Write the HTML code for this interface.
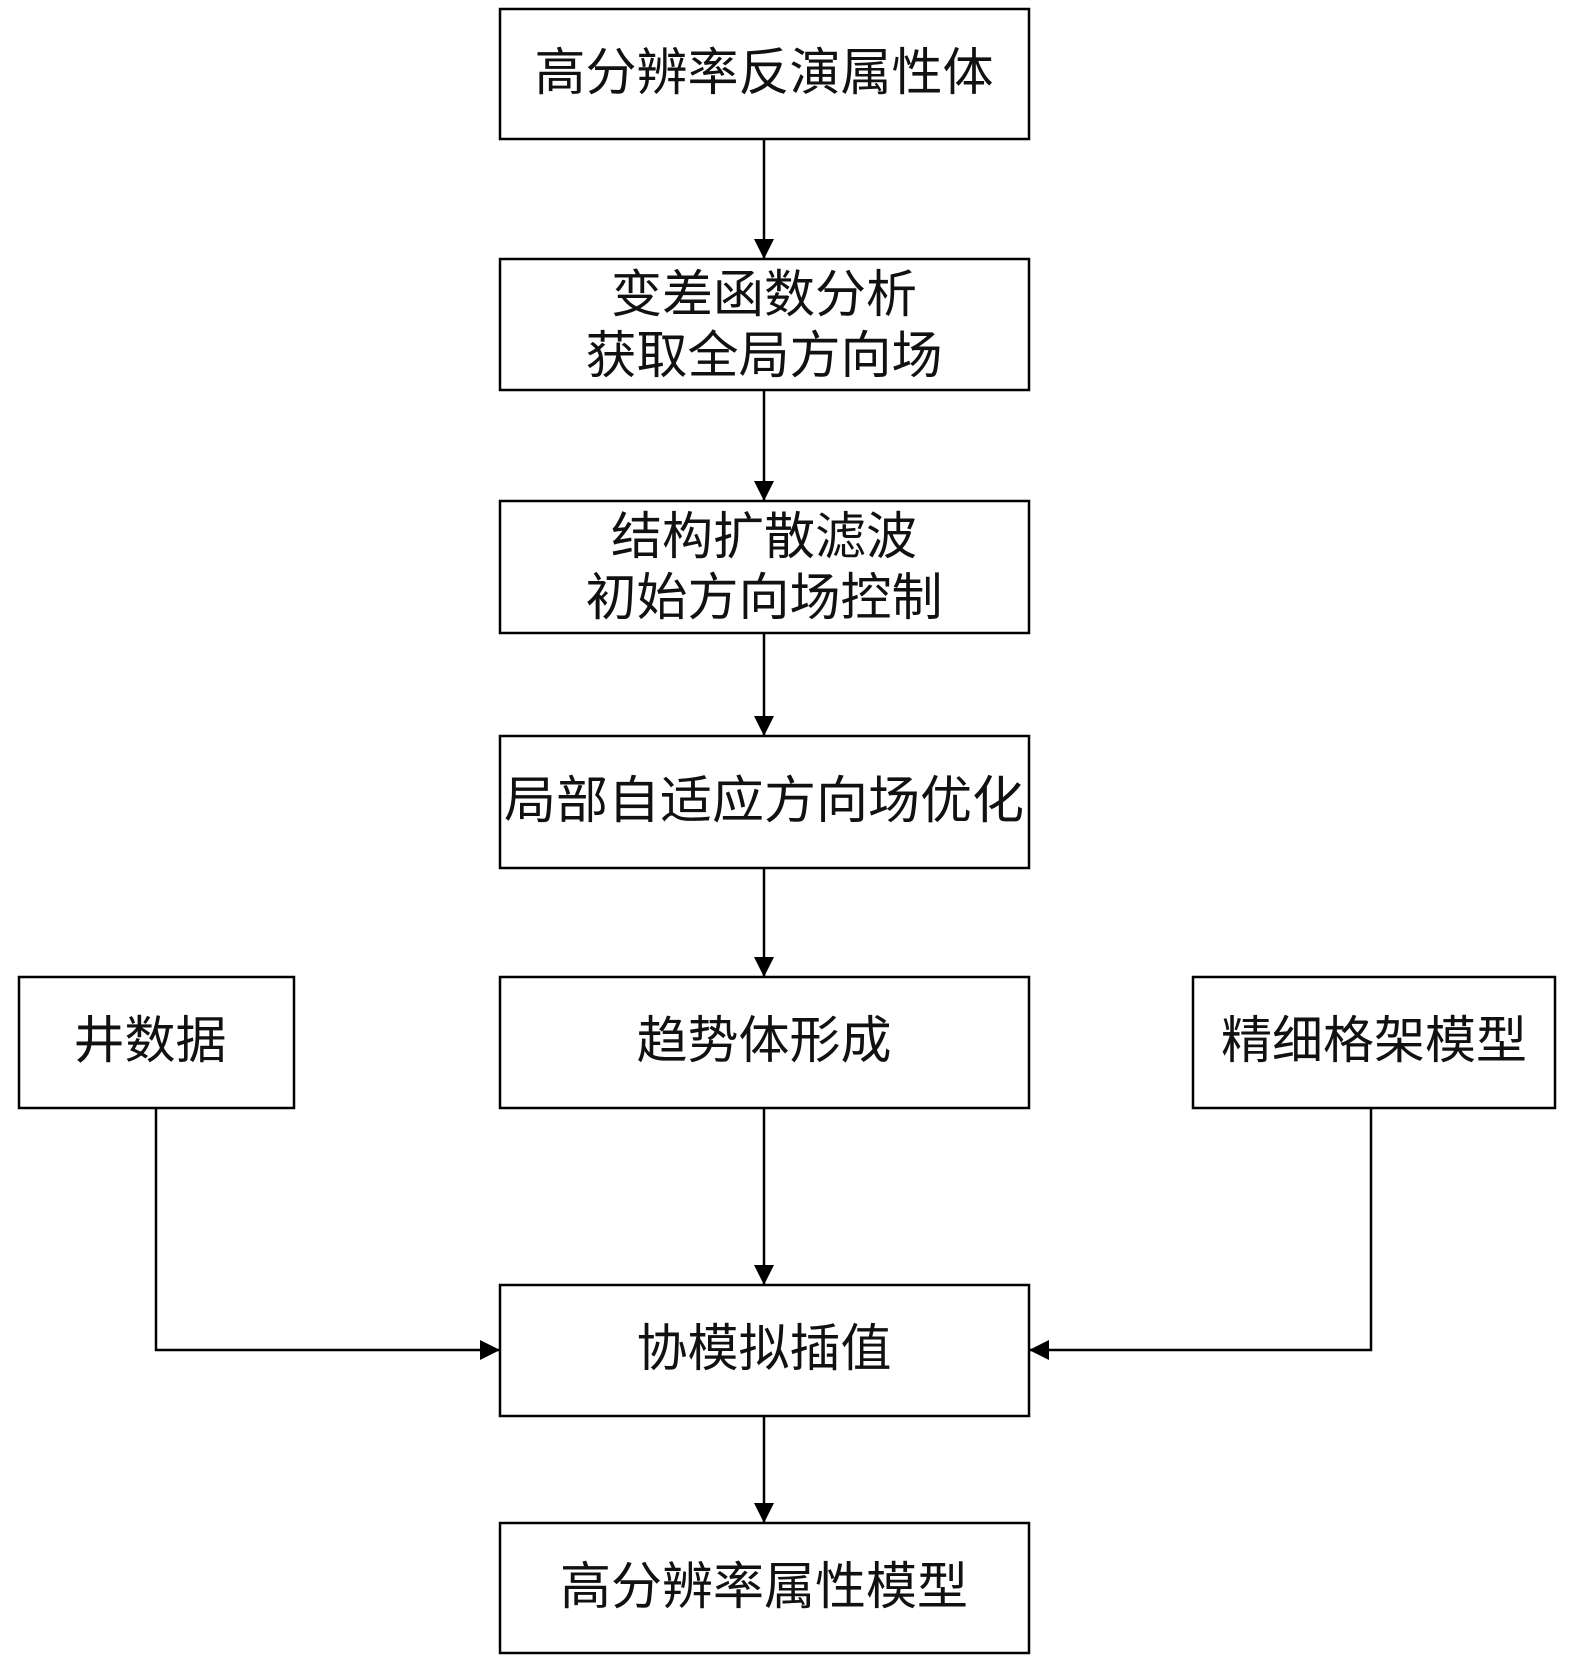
<!DOCTYPE html>
<html><head><meta charset="utf-8"><style>
html,body{margin:0;padding:0;background:#fff}
svg{display:block}
text{font-family:"Liberation Serif","Noto Sans CJK SC",sans-serif;font-size:51px;fill:#111;text-anchor:middle;dominant-baseline:central}
</style></head><body>
<svg width="1575" height="1663" viewBox="0 0 1575 1663" xmlns="http://www.w3.org/2000/svg">
<defs><marker id="a" markerWidth="10" markerHeight="10" refX="9" refY="5" orient="auto" markerUnits="userSpaceOnUse" viewBox="0 0 10 10"><path d="M0,0 L10,5 L0,10 z" fill="#000"/></marker>
<marker id="b" markerWidth="20" markerHeight="20" refX="20" refY="10" orient="auto" markerUnits="userSpaceOnUse" viewBox="0 0 20 20"><path d="M0,0 L20,10 L0,20 z" fill="#000"/></marker></defs>
<g fill="none" stroke="#000" stroke-width="2.5">
<rect x="500" y="9" width="529" height="130"/>
<rect x="500" y="259" width="529" height="131"/>
<rect x="500" y="501" width="529" height="132"/>
<rect x="500" y="736" width="529" height="132"/>
<rect x="19" y="977" width="275" height="131"/>
<rect x="500" y="977" width="529" height="131"/>
<rect x="1193" y="977" width="362" height="131"/>
<rect x="500" y="1285" width="529" height="131"/>
<rect x="500" y="1523" width="529" height="130"/>
<line x1="764" y1="139" x2="764" y2="259" marker-end="url(#b)"/>
<line x1="764" y1="390" x2="764" y2="501" marker-end="url(#b)"/>
<line x1="764" y1="633" x2="764" y2="736" marker-end="url(#b)"/>
<line x1="764" y1="868" x2="764" y2="977" marker-end="url(#b)"/>
<line x1="764" y1="1108" x2="764" y2="1285" marker-end="url(#b)"/>
<line x1="764" y1="1416" x2="764" y2="1523" marker-end="url(#b)"/>
<polyline points="156,1108 156,1350 500,1350" marker-end="url(#b)"/>
<polyline points="1371,1108 1371,1350 1029,1350" marker-end="url(#b)"/>
</g>
<text x="764" y="74">高分辨率反演属性体</text>
<text x="764" y="296">变差函数分析</text>
<text x="764" y="357">获取全局方向场</text>
<text x="764" y="538">结构扩散滤波</text>
<text x="764" y="599">初始方向场控制</text>
<text x="764" y="802" textLength="520" lengthAdjust="spacingAndGlyphs">局部自适应方向场优化</text>
<text x="150" y="1042">井数据</text>
<text x="764" y="1042">趋势体形成</text>
<text x="1374" y="1042">精细格架模型</text>
<text x="764" y="1350">协模拟插值</text>
<text x="764" y="1588">高分辨率属性模型</text>
</svg>
</body></html>
